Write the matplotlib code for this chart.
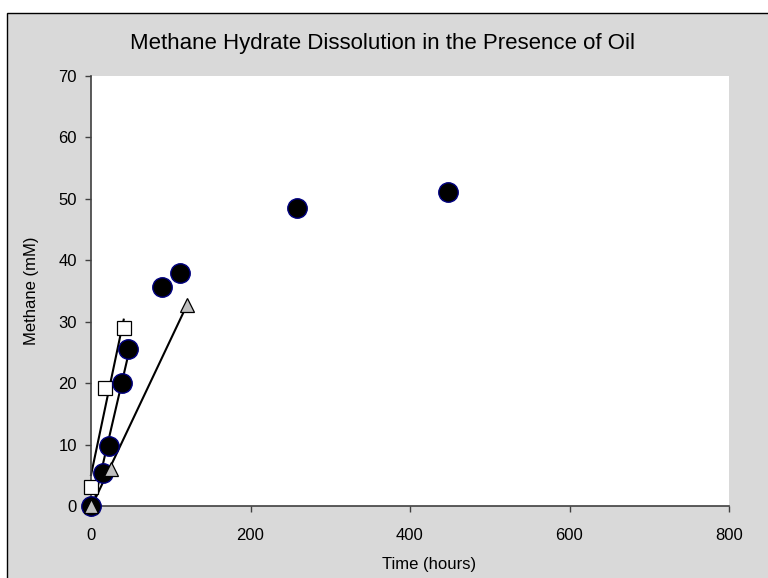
import matplotlib
matplotlib.use("Agg")
import matplotlib.pyplot as plt
import numpy as np
from matplotlib.patches import Rectangle

plt.rcParams['font.family'] = ['Liberation Sans', 'DejaVu Sans']

# hydrate with oil (black circles)
circle_t = np.array([0, 15, 22, 38.5, 47, 89, 112, 258, 448])
circle_ch4 = np.array([0, 5.3, 9.8, 20.1, 25.6, 35.7, 37.9, 48.5, 51.1])
# squares
square_t = np.array([0, 17.5, 41])
square_ch4 = np.array([3.1, 19.2, 28.9])
# triangles
tri_t = np.array([0, 24.5, 120])
tri_ch4 = np.array([0, 6.1, 32.7])

n_fit_circle = 5  # trendline only through the early points

fig = plt.figure(figsize=(7.68, 5.78), dpi=100, facecolor='white')

# grey chart area with thin outer border
fig.patches.append(Rectangle((7 / 768, -0.05), 1.0, 1 - 13 / 578 + 0.05,
                             transform=fig.transFigure, facecolor='#d9d9d9',
                             edgecolor='black', linewidth=1.0, zorder=-10))

ax = fig.add_axes([91 / 768, 72 / 578, 638 / 768, 430 / 578])
ax.set_facecolor('white')


def trend(x, y):
    m, b = np.polyfit(x, y, 1)
    xs = np.array([x.min(), x.max()])
    ax.plot(xs, m * xs + b, color='black', linewidth=1.5, zorder=2)


trend(square_t, square_ch4)
trend(circle_t[:n_fit_circle], circle_ch4[:n_fit_circle])
trend(tri_t, tri_ch4)

ax.plot(square_t, square_ch4, linestyle='none', marker='s', markersize=10.5,
        markerfacecolor='white', markeredgecolor='black', markeredgewidth=0.9, zorder=3)
ax.plot(circle_t, circle_ch4, linestyle='none', marker='o', markersize=14,
        markerfacecolor='black', markeredgecolor='#000080', markeredgewidth=1.0, zorder=4)
ax.plot(tri_t, tri_ch4, linestyle='none', marker='^', markersize=10,
        markerfacecolor='#c0c0c0', markeredgecolor='black', markeredgewidth=0.9, zorder=5)

ax.set_xlim(0, 800)
ax.set_ylim(0, 70)
ax.set_xticks(np.arange(0, 801, 200))
ax.set_yticks(np.arange(0, 71, 10))
for side in ['top', 'right']:
    ax.spines[side].set_visible(False)
for side in ['left', 'bottom']:
    ax.spines[side].set_color('#404040')
    ax.spines[side].set_linewidth(1.2)
ax.tick_params(direction='out', length=4, width=1, color='#404040', labelsize=12)
ax.tick_params(axis='x', pad=12)
ax.tick_params(axis='y', pad=6)

ax.set_ylabel('Methane (mM)', fontsize=12, labelpad=14)
fig.text(429 / 768, 1 - 565 / 578, 'Time (hours)', ha='center', va='center', fontsize=12)
fig.text(383 / 768, 1 - 43 / 578, 'Methane Hydrate Dissolution in the Presence of Oil',
         ha='center', va='center', fontsize=16)

# markers at the origin sit on the axes edges
for line in ax.lines:
    line.set_clip_on(False)

fig.savefig('out.png', dpi=100, facecolor=fig.get_facecolor())
